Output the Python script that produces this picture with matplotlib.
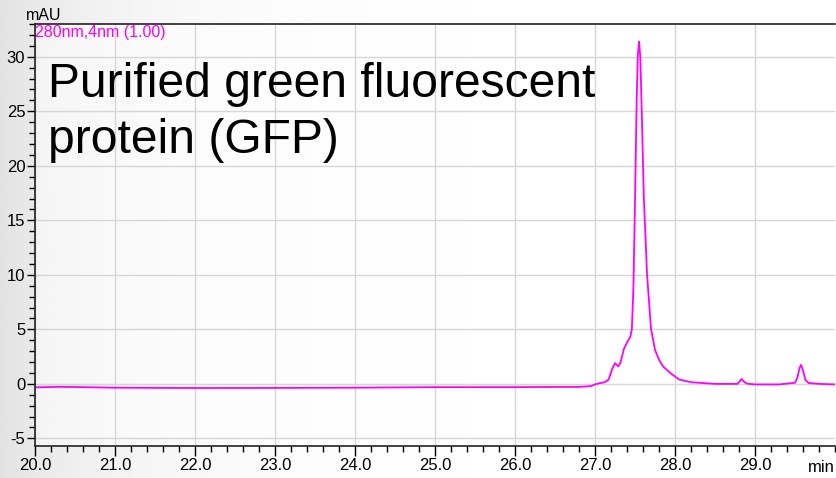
import numpy as np
import matplotlib
matplotlib.use('Agg')
import matplotlib.pyplot as plt
from matplotlib.ticker import MultipleLocator, FormatStrFormatter, FixedLocator

plt.rcParams['font.family'] = ['Liberation Sans', 'DejaVu Sans']
plt.rcParams['axes.unicode_minus'] = False

# retention time (min) and absorbance (mAU)
time_min = [20.0, 20.3, 20.6, 21.0, 22.0, 23.0, 24.0, 25.0, 26.0, 26.5, 26.8,
            26.95, 27.0, 27.05, 27.12, 27.17, 27.21, 27.25, 27.29, 27.32, 27.36,
            27.40, 27.44, 27.46, 27.48, 27.50, 27.52, 27.535, 27.55, 27.565,
            27.58, 27.61, 27.65, 27.70, 27.75, 27.80, 27.85, 27.94, 28.05, 28.2,
            28.5, 28.78, 28.81, 28.83, 28.86, 28.9, 29.0, 29.3, 29.5, 29.53,
            29.555, 29.575, 29.6, 29.63, 29.67, 29.8, 30.0]
mau = [-0.32, -0.27, -0.3, -0.35, -0.38, -0.37, -0.35, -0.3, -0.3, -0.28, -0.28,
       -0.2, -0.05, 0.05, 0.15, 0.4, 1.3, 1.9, 1.6, 2.0, 3.2,
       3.8, 4.3, 5.0, 9.0, 17.0, 26.0, 30.2, 31.4, 30.0,
       26.0, 17.0, 10.0, 5.0, 3.1, 2.2, 1.6, 1.0, 0.4, 0.15,
       0.0, 0.0, 0.25, 0.45, 0.2, 0.02, -0.05, -0.05, 0.1, 0.6,
       1.45, 1.74, 1.2, 0.35, 0.08, 0.0, -0.05]

channel_label = '280nm,4nm (1.00)'
title_lines = ['Purified green fluorescent', 'protein (GFP)']
x_labelled = [20, 21, 22, 23, 24, 25, 26, 27, 28, 29]

fig = plt.figure(figsize=(8.36, 4.78), dpi=100)

# grey-to-white background on the left
bg = fig.add_axes([0, 0, 1, 1], zorder=-1)
grad = np.linspace(0, 1, 400)
shade = 0.89 + 0.11 * (1 - np.exp(-grad * 6))
bg.imshow(np.tile(shade, (10, 1)), cmap='gray', vmin=0, vmax=1,
          aspect='auto', extent=[0, 1, 0, 1])
bg.set_axis_off()

ax = fig.add_axes([0.0419, 0.0669, 0.957, 0.8828])
ax.set_facecolor((1, 1, 1, 0.55))
ax.plot(time_min, mau, color='#ff00ff', lw=1.3)

ax.set_xlim(20, 30)
ax.set_ylim(-5.7, 33)
ax.xaxis.set_major_locator(FixedLocator(x_labelled))
ax.xaxis.set_minor_locator(MultipleLocator(0.2))
ax.yaxis.set_major_locator(MultipleLocator(5))
ax.yaxis.set_minor_locator(MultipleLocator(1))
ax.xaxis.set_major_formatter(FormatStrFormatter('%.1f'))
ax.tick_params(which='major', length=6, width=1, labelsize=12, color='black')
ax.tick_params(which='minor', length=4, width=1, color='black')
ax.tick_params(axis='x', which='major', length=7.5, pad=1)
ax.tick_params(axis='y', pad=1)
ax.grid(True, which='major', color='#d6d6d6', lw=1)
ax.set_axisbelow(True)
for s in ['left', 'bottom', 'top']:
    ax.spines[s].set_color('#222222')
    ax.spines[s].set_linewidth(1.2)
ax.spines['right'].set_visible(False)

fig.text(0.031, 0.968, 'mAU', fontsize=11.5, va='center', ha='left')
fig.text(0.999, 0.022, 'min', fontsize=12, va='center', ha='right')
ax.text(0.0, 0.997, channel_label, transform=ax.transAxes, color='#ff00ff',
        fontsize=11.5, va='top', ha='left')
fig.text(0.057, 0.797, title_lines[0], fontsize=34.6, va='baseline', ha='left')
fig.text(0.057, 0.680, title_lines[1], fontsize=34.6, va='baseline', ha='left')

fig.savefig('out.png', dpi=100)
